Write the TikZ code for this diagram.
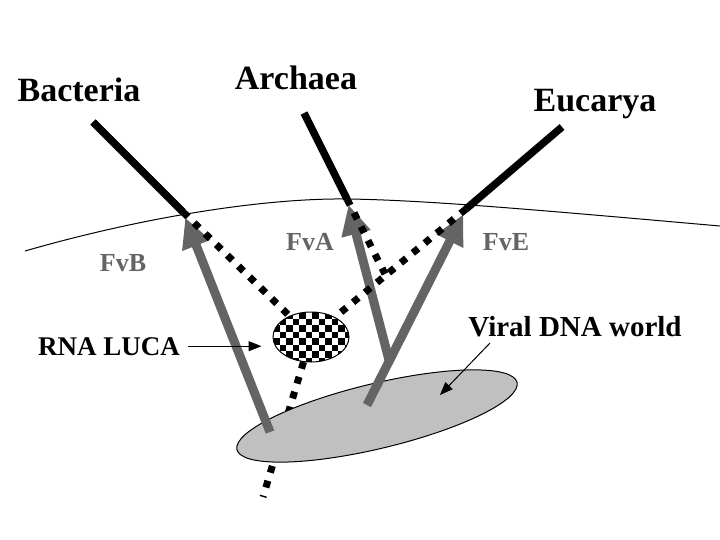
\documentclass[tikz,border=0pt]{standalone}
\usepackage{fontspec}
\setmainfont{Liberation Serif}
\usetikzlibrary{arrows.meta,shapes.geometric}
\definecolor{fvgray}{RGB}{100,100,100}
\definecolor{dnagray}{RGB}{192,192,192}

\begin{document}
\begin{tikzpicture}[x=1pt, y=-1pt,
  kingdom/.style={font=\bfseries\fontsize{34}{34}\selectfont, anchor=base},
  fvlabel/.style={text=fvgray, font=\bfseries\fontsize{26}{26}\selectfont, anchor=base},
  notelabel/.style={font=\bfseries\fontsize{29}{29}\selectfont, anchor=base},
  branch/.style={line width=7.5pt},
  dotbranch/.style={line width=7pt, dash pattern=on 7pt off 8.5pt},
  fvarrow/.style={fvgray, line width=9pt, -{Triangle[length=30pt,width=28pt]}, shorten >=6pt},
  ptr/.style={line width=1pt, -{Triangle[length=13pt,width=10pt]}}]
\fill[white] (0,0) rectangle (720,540);
\useasboundingbox (0,0) rectangle (720,540);

% branch points
\coordinate (bacttop) at (93,122);
\coordinate (bactend) at (183,212);
\coordinate (archtop) at (304,113);
\coordinate (archend) at (347,199);
\coordinate (eucatop) at (562,127);
\coordinate (eucaend) at (466,209);
\coordinate (join) at (385,274);
\coordinate (root) at (263,497);

% the thin horizon line
\draw[line width=1pt] (25,251) .. controls (150,215) and (270,198) .. (347,199)
  .. controls (430,200) and (560,212) .. (720,226);

\draw[branch] (bacttop) -- (bactend);
\draw[branch] (archtop) -- (archend);
\draw[branch] (eucatop) -- (eucaend);

% RNA LUCA (checkered)
\begin{scope}
  \clip (311,337) ellipse [x radius=38pt, y radius=25pt];
  \foreach \i in {0,...,11}{
    \foreach \j in {0,...,7}{
      \ifodd\numexpr\i+\j\relax\else
        \fill (273+\i*6.5,312+\j*6.5) rectangle ++(6.5,6.5);
      \fi}}
\end{scope}
\node[ellipse, draw, line width=1pt, minimum width=76pt, minimum height=50pt, inner sep=0pt] (luca) at (311,337) {};

\draw[dotbranch] (luca) -- (root);

% viral DNA world
\node[ellipse, draw, line width=1pt, fill=dnagray, minimum width=288pt, minimum height=65pt,
  inner sep=0pt, rotate=13.5] (viral) at (377,416) {};

\coordinate (fvbtail) at (270,432);
\coordinate (fvatail) at (389,360);
\coordinate (fvetail) at (367,405);
\draw[fvarrow] (fvbtail) -- (bactend);
\draw[fvarrow] (fvatail) -- (archend);
\draw[fvarrow] (fvetail) -- (eucaend);

\draw[dotbranch] (bactend) -- (luca);
\draw[dotbranch] (archend) -- (join);
\draw[dotbranch] (eucaend) -- (luca);

\node[kingdom] (bactlbl) at (79,102) {Bacteria};
\node[kingdom] (archlbl) at (296,90) {Archaea};
\node[kingdom] (eucalbl) at (595,112) {Eucarya};
\node[fvlabel] (fvblbl) at (123,271) {FvB};
\node[fvlabel] (fvalbl) at (310,250) {FvA};
\node[fvlabel] (fvelbl) at (506,250) {FvE};
\node[notelabel, font=\bfseries\fontsize{27}{27}\selectfont] (lucalbl) at (109,355) {RNA LUCA};
\node[notelabel] (viralbl) at (575,336) {Viral DNA world};

\coordinate (viraltail) at (490,343);
\coordinate (viraltip) at (440,395);
\draw[ptr, shorten <=5pt, shorten >=11pt] (lucalbl.east) -- (lucalbl.east -| luca.west);
\draw[ptr] (viraltail) -- (viraltip);
\end{tikzpicture}
\end{document}
